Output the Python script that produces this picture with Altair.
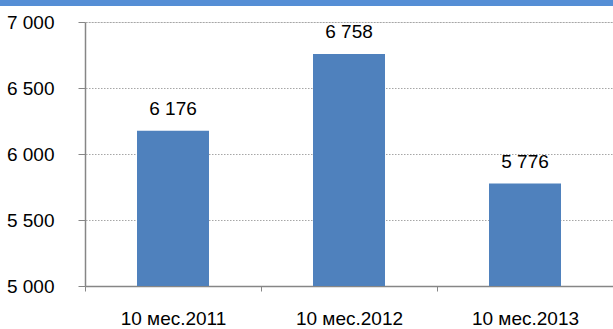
import altair as alt
import pandas as pd

categories = ["10 мес.2011", "10 мес.2012", "10 мес.2013"]
values = [6176, 6758, 5776]
y_ticks = [5000, 5500, 6000, 6500, 7000]

df = pd.DataFrame({"period": categories, "value": values})
df["label"] = df["value"].map(lambda v: f"{v:,}".replace(",", " "))
grid_df = pd.DataFrame({"tick": y_ticks[1:]})

FONT = "Liberation Sans"
FS = 19
yscale = alt.Scale(domain=[5000, 7000], nice=False, zero=False)

x = alt.X("period:N", sort=categories, title=None,
          scale=alt.Scale(paddingInner=0, paddingOuter=0),
          axis=alt.Axis(labelAngle=0, labelFontSize=FS, labelFont=FONT, labelColor="black",
                        labelPadding=18, tickBand="extent", tickSize=5, tickColor="#868686",
                        domainColor="#868686", domainWidth=1.5, grid=False))
y = alt.Y("value:Q", title=None, scale=yscale,
          axis=alt.Axis(values=y_ticks, labelFontSize=FS, labelFont=FONT, labelColor="black",
                        labelPadding=24, tickSize=7, tickColor="#868686", domainColor="#868686",
                        domainWidth=1.5, grid=False,
                        labelExpr="replace(format(datum.value, ','), ',', ' ')"))

grid = alt.Chart(grid_df).mark_rule(color="#A6A6A6", strokeWidth=1, strokeDash=[1.5, 1.5],
                                    yOffset=0.5).encode(
    y=alt.Y("tick:Q", scale=yscale), x=alt.value(1), x2=alt.value(528)
)
bars = alt.Chart(df).mark_bar(color="#4F81BD", width=72, clip=True).encode(
    x=x, y=y, y2=alt.datum(5000)
)
text = alt.Chart(df).mark_text(dy=-12, baseline="bottom", fontSize=FS, font=FONT, color="black").encode(
    x=alt.X("period:N", sort=categories), y=alt.Y("value:Q"), text="label:N"
)
band = alt.Chart(df).mark_rule(color="#558ED5", strokeWidth=6).encode(
    x=alt.value(-85), x2=alt.value(528), y=alt.value(-19)
)

chart = alt.layer(grid, bars, text, band).properties(
    width=528, height=264,
    autosize=alt.AutoSizeParams(type="none"),
    padding={"left": 85, "top": 22, "right": 0, "bottom": 43},
).configure_view(stroke=None).configure(background="white")

chart.save("out.html", embed_options={"renderer": "svg", "actions": False})
